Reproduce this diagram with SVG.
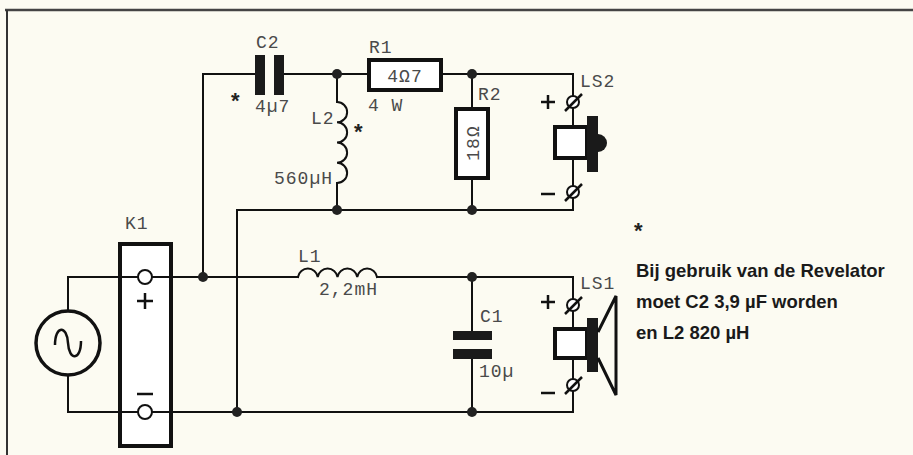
<svg xmlns="http://www.w3.org/2000/svg" width="913" height="455" viewBox="0 0 913 455">
<style>
.w{fill:none;stroke:#111;stroke-width:2;stroke-linecap:square}
.thick{fill:#fff;stroke:#111;stroke-width:4}
.plate{fill:#1a1a1a}
.dot{fill:#222}
.term{fill:#fff;stroke:#111;stroke-width:2}
.lbl{font-family:"Liberation Mono","DejaVu Sans Mono",monospace;font-size:18px;letter-spacing:1px;fill:#4a4a4a}
.ast{font-family:"Liberation Sans",Arial,sans-serif;font-size:22px;font-weight:bold;fill:#222}
.note{font-family:"Liberation Sans",Arial,sans-serif;font-size:18.5px;font-weight:bold;fill:#1a1a1a}
</style>
<rect width="913" height="455" fill="#fcfbf2"/>
<g id="frame">
<line x1="5" y1="10" x2="913" y2="10" stroke="#444" stroke-width="2.5"/>
<line x1="7" y1="10" x2="7" y2="455" stroke="#333" stroke-width="2"/>
</g>
<g id="connectors">
<path class="w" d="M68 311 V277 H298 M377 277 H573 V299"/>
<path class="w" d="M68 376 V412 H573 V391"/>
<path class="w" d="M203 277 V74 H255 M284 74 H368 M442 74 H573 V96"/>
<path class="w" d="M337 74 V102 M337 183 V210"/>
<path class="w" d="M237 412 V210 H573 V198"/>
<path class="w" d="M472 74 V107 M472 179 V210"/>
<path class="w" d="M472 277 V331 M472 359 V412"/>
<path class="w" d="M573 108 V126 M573 159 V186"/>
<path class="w" d="M573 311 V328 M573 358 V379"/>
</g>
<g id="source">
<circle cx="68" cy="343" r="32" fill="none" stroke="#111" stroke-width="3.5"/>
<path d="M55 345 C55 325 67 325 68 343 C69 361 81 361 81 341" fill="none" stroke="#111" stroke-width="2.5"/>
</g>
<g id="K1">
<rect class="thick" x="120" y="244" width="51" height="202" fill="none"/>
<line x1="120" y1="277" x2="171" y2="277" stroke="#111" stroke-width="2"/>
<line x1="120" y1="412" x2="171" y2="412" stroke="#111" stroke-width="2"/>
<circle class="term" cx="145" cy="277" r="7"/>
<circle class="term" cx="145" cy="412" r="7"/>
<path d="M137 301 H153 M145 293 V309" stroke="#111" stroke-width="2.5"/>
<line x1="137" y1="394" x2="153" y2="394" stroke="#111" stroke-width="2.5"/>
<text class="lbl" x="125" y="229">K1</text>
</g>
<g id="C2">
<rect class="plate" x="255" y="55" width="10" height="40"/>
<rect class="plate" x="274" y="55" width="10" height="40"/>
<text class="lbl" x="256" y="48">C2</text>
<text class="lbl" x="255" y="112">4µ7</text>
<text class="ast" x="231" y="108">*</text>
</g>
<g id="R1">
<rect class="thick" x="369" y="60" width="72" height="30"/>
<text class="lbl" x="405" y="82" text-anchor="middle">4Ω7</text>
<text class="lbl" x="368" y="111">4 W</text>
<text class="lbl" x="369" y="53">R1</text>
</g>
<g id="L2">
<path class="w" d="M337 102 a10 10 0 0 1 0 20.25 a10 10 0 0 1 0 20.25 a10 10 0 0 1 0 20.25 a10 10 0 0 1 0 20.25"/>
<text class="lbl" x="311" y="124">L2</text>
<text class="ast" x="354" y="139">*</text>
<text class="lbl" x="274" y="184">560µH</text>
</g>
<g id="R2">
<rect class="thick" x="456" y="109" width="32" height="69"/>
<text class="lbl" transform="translate(479 143) rotate(-90)" text-anchor="middle" font-size="17">18Ω</text>
<text class="lbl" x="478" y="100">R2</text>
</g>
<g id="LS2">
<circle class="term" cx="573" cy="102" r="6"/>
<line x1="565" y1="111" x2="582" y2="94" stroke="#111" stroke-width="2.5"/>
<circle class="term" cx="573" cy="192" r="6"/>
<line x1="565" y1="201" x2="582" y2="184" stroke="#111" stroke-width="2.5"/>
<rect x="555" y="127" width="32" height="31" fill="#fff" stroke="#111" stroke-width="4"/>
<rect x="587" y="116" width="11" height="56" fill="#1a1a1a"/>
<path d="M598 134 A9 9 0 0 1 598 152 Z" fill="#1a1a1a"/>
<path d="M541 102 H555 M548 95 V109" stroke="#111" stroke-width="2.5"/>
<line x1="541" y1="194" x2="555" y2="194" stroke="#111" stroke-width="2.5"/>
<text class="lbl" x="580" y="87">LS2</text>
</g>
<g id="L1">
<path class="w" d="M298 277 a10 10 0 0 1 19.75 0 a10 10 0 0 1 19.75 0 a10 10 0 0 1 19.75 0 a10 10 0 0 1 19.75 0"/>
<text class="lbl" x="298" y="262">L1</text>
<text class="lbl" x="319" y="295">2,2mH</text>
</g>
<g id="C1">
<rect class="plate" x="453" y="331" width="39" height="9"/>
<rect class="plate" x="453" y="349" width="39" height="10"/>
<text class="lbl" x="480" y="322">C1</text>
<text class="lbl" x="479" y="377">10µ</text>
</g>
<g id="LS1">
<circle class="term" cx="573" cy="305" r="6"/>
<line x1="565" y1="314" x2="582" y2="297" stroke="#111" stroke-width="2.5"/>
<circle class="term" cx="573" cy="385" r="6"/>
<line x1="565" y1="394" x2="582" y2="377" stroke="#111" stroke-width="2.5"/>
<rect x="555" y="329" width="32" height="29" fill="#fff" stroke="#111" stroke-width="4"/>
<rect x="587" y="318" width="11" height="54" fill="#1a1a1a"/>
<path d="M598 332 L616 296 V395 L598 358" fill="none" stroke="#111" stroke-width="3"/>
<path d="M541 302 H555 M548 295 V309" stroke="#111" stroke-width="2.5"/>
<line x1="541" y1="393" x2="555" y2="393" stroke="#111" stroke-width="2.5"/>
<text class="lbl" x="580" y="289">LS1</text>
</g>
<g id="junctions">
<circle class="dot" cx="203" cy="277" r="5"/>
<circle class="dot" cx="237" cy="412" r="5"/>
<circle class="dot" cx="337" cy="74" r="5"/>
<circle class="dot" cx="337" cy="210" r="5"/>
<circle class="dot" cx="472" cy="74" r="5"/>
<circle class="dot" cx="472" cy="210" r="5"/>
<circle class="dot" cx="472" cy="277" r="5"/>
<circle class="dot" cx="472" cy="412" r="5"/>
</g>
<g id="note">
<text class="ast" x="634" y="238">*</text>
<text class="note" x="636" y="277">Bij gebruik van de Revelator</text>
<text class="note" x="636" y="308">moet C2 3,9 µF worden</text>
<text class="note" x="636" y="339">en L2 820 µH</text>
</g>
</svg>
